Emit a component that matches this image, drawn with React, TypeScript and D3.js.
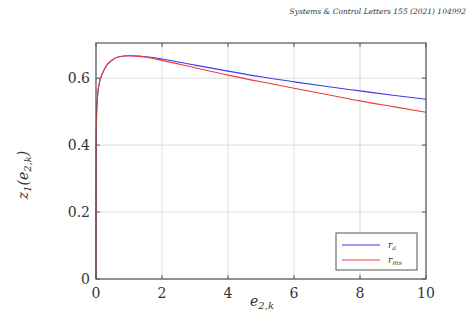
import React from "react";
import * as d3 from "d3";

const eValues = [0, 0.005, 0.02, 0.05, 0.1, 0.2, 0.3, 0.5, 0.7, 1.0, 1.3, 1.6, 2, 3, 4, 5, 6, 7, 8, 9, 10];
const blueValues = [0, 0.35, 0.5, 0.55, 0.585, 0.615, 0.635, 0.655, 0.664, 0.667, 0.666, 0.663, 0.657, 0.639, 0.621, 0.604, 0.589, 0.575, 0.562, 0.549, 0.537];
const redValues = [0, 0.35, 0.5, 0.55, 0.585, 0.615, 0.635, 0.655, 0.664, 0.667, 0.665, 0.661, 0.653, 0.631, 0.609, 0.589, 0.570, 0.551, 0.532, 0.515, 0.498];
const xTicks = [0, 2, 4, 6, 8, 10];
const yTicks = [0, 0.2, 0.4, 0.6];
const seriesLabels = ["r", "r"];
const seriesSubs = ["a", "ms"];
const seriesColors = ["#3b3bf0", "#f03b3b"];

export default function App() {
  const left = 96, right = 426, top = 43, bottom = 279;
  const x = d3.scaleLinear().domain([0, 10]).range([left, right]);
  const y = d3.scaleLinear().domain([0, 0.705]).range([bottom, top]);
  const line = d3.line<number>().x((_, i) => x(eValues[i])).y(d => y(d)).curve(d3.curveMonotoneX);
  const serif = "'DejaVu Serif', 'Liberation Serif', serif";
  const series = [blueValues, redValues];
  return (
    <svg width={470} height={323} style={{ position: "absolute", left: 0, top: 0, background: "#fff" }}>
      <text x={466} y={14} textAnchor="end" fontSize={7.5} fontStyle="italic" fontFamily={serif} fill="#333">
        Systems &amp; Control Letters 155 (2021) 104992
      </text>
      {xTicks.map(t => (
        <line key={"gx" + t} x1={x(t)} x2={x(t)} y1={top} y2={bottom} stroke="#d4d4d4" strokeWidth={0.8} />
      ))}
      {yTicks.map(t => (
        <line key={"gy" + t} x1={left} x2={right} y1={y(t)} y2={y(t)} stroke="#d4d4d4" strokeWidth={0.8} />
      ))}
      {xTicks.map(t => (
        <g key={"tx" + t}>
          <line x1={x(t)} x2={x(t)} y1={bottom} y2={bottom - 4} stroke="#555" />
          <line x1={x(t)} x2={x(t)} y1={top} y2={top + 4} stroke="#555" />
          <text x={x(t)} y={bottom + 19} textAnchor="middle" fontSize={14} fontFamily={serif} fill="#333">{t}</text>
        </g>
      ))}
      {yTicks.map(t => (
        <g key={"ty" + t}>
          <line x1={left} x2={left + 4} y1={y(t)} y2={y(t)} stroke="#555" />
          <line x1={right} x2={right - 4} y1={y(t)} y2={y(t)} stroke="#555" />
          <text x={left - 6} y={y(t) + 5} textAnchor="end" fontSize={14} fontFamily={serif} fill="#333">{t === 0 ? "0" : t.toFixed(1)}</text>
        </g>
      ))}
      {series.map((s, i) => (
        <path key={"s" + i} d={line(s) || ""} fill="none" stroke={seriesColors[i]} strokeWidth={1.1} />
      ))}
      <rect x={left} y={top} width={right - left} height={bottom - top} fill="none" stroke="#555" strokeWidth={1.2} />
      <g>
        <rect x={336} y={233} width={81} height={37} fill="#fff" stroke="#555" strokeWidth={1} />
        {series.map((_, i) => (
          <g key={"lg" + i}>
            <line x1={342} x2={380} y1={245 + i * 15} y2={245 + i * 15} stroke={seriesColors[i]} strokeWidth={1.1} />
            <text x={388} y={248 + i * 15} fontSize={9} fontStyle="italic" fontFamily={serif} fill="#333">
              {seriesLabels[i]}<tspan fontSize={6.5} dy={2}>{seriesSubs[i]}</tspan>
            </text>
          </g>
        ))}
      </g>
      <text x={262} y={306} textAnchor="middle" fontSize={14} fontStyle="italic" fontFamily={serif} fill="#333">
        e<tspan fontSize={10} dy={3}>2,k</tspan>
      </text>
      <text transform="translate(28,175) rotate(-90)" textAnchor="middle" fontSize={14} fontStyle="italic" fontFamily={serif} fill="#333">
        z<tspan fontSize={10} dy={3}>1</tspan><tspan dy={-3}>(e</tspan><tspan fontSize={10} dy={3}>2,k</tspan><tspan dy={-3}>)</tspan>
      </text>
    </svg>
  );
}
